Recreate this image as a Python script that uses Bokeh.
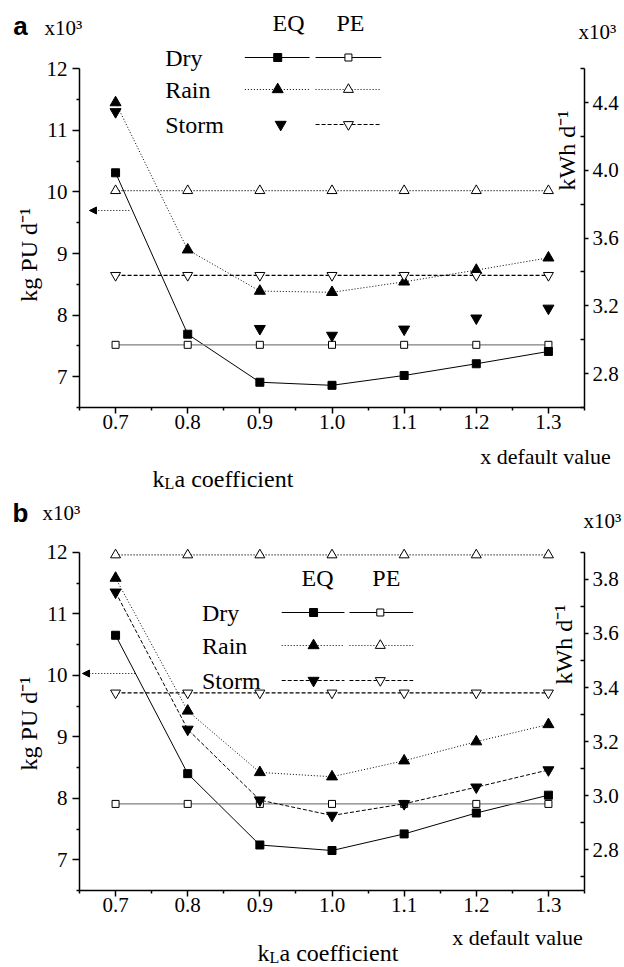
import math
from bokeh.plotting import figure
from bokeh.models import (Range1d, LinearAxis, FixedTicker, PrintfTickFormatter,
                          Label, Arrow, NormalHead)
from bokeh.layouts import column, row
from bokeh.embed import file_html
from bokeh.resources import INLINE

NAN = float("nan")

# ------------------------------------------------------------------ data
kla_factor = [0.7, 0.8, 0.9, 1.0, 1.1, 1.2, 1.3]
x_tick_values = [0.7, 0.8, 0.9, 1.0, 1.1, 1.2, 1.3]
x_minor_values = [0.65, 0.75, 0.85, 0.95, 1.05, 1.15, 1.25, 1.35]
eq_tick_values = [7, 8, 9, 10, 11, 12]
eq_minor_values = [6.5, 7.5, 8.5, 9.5, 10.5, 11.5]

# panel a  (EQ: kg PU/d x10^3 ; PE: kWh/d x10^3)
a_eq_dry = [10.31, 7.69, 6.91, 6.86, 7.02, 7.21, 7.41]
a_eq_rain = [11.45, 9.06, 8.39, 8.37, 8.54, 8.73, 8.93]
a_eq_storm = [11.30, NAN, 7.78, 7.67, 7.77, 7.95, 8.11]
a_pe_dry = [2.97, 2.97, 2.97, 2.97, 2.97, 2.97, 2.97]
a_pe_rain = [3.88, 3.88, 3.88, 3.88, 3.88, 3.88, 3.88]
a_pe_storm = [3.38, 3.38, 3.38, 3.38, 3.38, 3.38, 3.38]
a_pe_ticks = [2.8, 3.2, 3.6, 4.0, 4.4]
a_pe_minor = [2.6, 3.0, 3.4, 3.8, 4.2, 4.6]

# panel b
b_eq_dry = [10.65, 8.40, 7.24, 7.15, 7.42, 7.76, 8.05]
b_eq_rain = [11.58, 9.42, 8.42, 8.35, 8.61, 8.92, 9.20]
b_eq_storm = [11.35, 9.12, 7.97, 7.72, 7.91, 8.18, 8.46]
b_pe_dry = [2.97, 2.97, 2.97, 2.97, 2.97, 2.97, 2.97]
b_pe_rain = [3.89, 3.89, 3.89, 3.89, 3.89, 3.89, 3.89]
b_pe_storm = [3.38, 3.38, 3.38, 3.38, 3.38, 3.38, 3.38]
b_pe_ticks = [2.8, 3.0, 3.2, 3.4, 3.6, 3.8]
b_pe_minor = [2.7, 2.9, 3.1, 3.3, 3.5, 3.7, 3.9]

series_names = ["Dry", "Rain", "Storm"]

# ------------------------------------------------------------------ styles / layout
SERIF = "Liberation Serif"
SANS = "Liberation Sans"
STYLE = {
    "Dry": dict(dash="solid", eq_marker="square", pe_marker="square", eq_size=8, pe_size=7,
                pe_color="#808080"),
    "Rain": dict(dash="1 2", eq_marker="triangle", pe_marker="triangle", eq_size=11, pe_size=10,
                 pe_color="black"),
    "Storm": dict(dash="4 2", eq_marker="inverted_triangle", pe_marker="inverted_triangle",
                  eq_size=11, pe_size=10, pe_color="black"),
}
PAGE_W = 624
LEFT_STRIP_W = 43
MAIN_W = PAGE_W - LEFT_STRIP_W
FRAME_L_PAGE, FRAME_R_PAGE = 77, 584
X0, X1 = 0.65, 1.35
EQ0, EQ1 = 6.5, 12.0
HALF = math.pi / 2


def strip(width, height):
    """A text-only canvas whose data units are its own pixels (y downward)."""
    s = figure(width=width, height=height, x_range=Range1d(0, width),
               y_range=Range1d(height, 0), output_backend="svg", toolbar_location=None,
               x_axis_location=None, y_axis_location=None, min_border=0)
    s.outline_line_color = None
    s.grid.visible = False
    return s


def put(canvas, text, x, y, size="24px", font=SERIF, style="normal", align="center",
        baseline="middle", angle=0):
    canvas.add_layout(Label(x=x, y=y, text=text, text_font=font, text_font_size=size,
                            text_font_style=style, text_align=align, text_baseline=baseline,
                            angle=angle, text_color="black"))


def kla_title(canvas, x, y):
    put(canvas, "k", x, y, align="left", baseline="alphabetic")
    put(canvas, "L", x + 12, y + 5, size="16px", align="left", baseline="alphabetic")
    put(canvas, "a coefficient", x + 22, y, align="left", baseline="alphabetic")


def style_axis(ax, major, minor, fmt, bounds, maj_out, min_out, min_in, standoff):
    ax.ticker = FixedTicker(ticks=major, minor_ticks=minor)
    ax.formatter = PrintfTickFormatter(format=fmt)
    ax.bounds = bounds
    ax.axis_line_color = "black"
    ax.axis_line_width = 1.5
    ax.major_tick_line_color = "black"
    ax.minor_tick_line_color = "black"
    ax.major_tick_line_width = 1.5
    ax.minor_tick_line_width = 1.5
    ax.major_tick_out = maj_out
    ax.major_tick_in = 0
    ax.minor_tick_out = min_out
    ax.minor_tick_in = min_in
    ax.major_label_text_font = SERIF
    ax.major_label_text_font_size = "21px"
    ax.major_label_text_color = "black"
    ax.major_label_standoff = standoff


def make_main(cfg, data):
    top = cfg["top_page"]
    bottom = cfg["bottom_page"]
    fbot = cfg["frame_bottom_page"]
    scale = cfg["eq_px_per_unit"]
    y_top = EQ0 + (fbot - top) / scale
    r0, r1 = cfg["pe_bounds"]
    r_top = r0 + (y_top - EQ0) * (r1 - r0) / (EQ1 - EQ0)

    def X(px):
        return X0 + (px - FRAME_L_PAGE) * (X1 - X0) / (FRAME_R_PAGE - FRAME_L_PAGE)

    def Y(py):
        return EQ0 + (fbot - py) / scale

    p = figure(width=MAIN_W, height=bottom - top, x_range=Range1d(X0, X1),
               y_range=Range1d(EQ0, y_top), output_backend="svg", toolbar_location=None,
               min_border_left=FRAME_L_PAGE - LEFT_STRIP_W,
               min_border_right=PAGE_W - FRAME_R_PAGE,
               min_border_top=0, min_border_bottom=bottom - fbot)
    p.outline_line_color = None
    p.grid.visible = False
    p.extra_y_ranges = {"pe": Range1d(r0, r_top)}

    style_axis(p.xaxis[0], x_tick_values, x_minor_values, "%.1f", (X0, X1), 6, 3, 0, 1)
    style_axis(p.yaxis[0], eq_tick_values, eq_minor_values, "%d", (EQ0, EQ1), 7, 3, 0, 5)
    rax = LinearAxis(y_range_name="pe")
    style_axis(rax, cfg["pe_ticks"], cfg["pe_minor"], "%.1f", (r0, r1), 4, 0, 4, 4)
    p.add_layout(rax, "right")

    for name in series_names:
        st = STYLE[name]
        if not (name == "Storm" and not cfg["storm_eq_line"]):
            p.line(kla_factor, data["eq"][name], line_color="black", line_width=1,
                   line_dash=st["dash"])
        p.line(kla_factor, data["pe"][name], line_color=st["pe_color"], line_width=1.2,
               line_dash=st["dash"], y_range_name="pe")
    for name in series_names:
        st = STYLE[name]
        p.scatter(kla_factor, data["pe"][name], marker=st["pe_marker"], size=st["pe_size"],
                  fill_color="white", line_color="black", line_width=1, y_range_name="pe")
        p.scatter(kla_factor, data["eq"][name], marker=st["eq_marker"], size=st["eq_size"],
                  fill_color="black", line_color="black", line_width=1)

    # custom legend: label | EQ sample | PE sample
    lg = cfg["legend"]
    for name, ry in zip(series_names, lg["rows_y"]):
        st = STYLE[name]
        put(p, name, X(lg["label_x"]), Y(ry), align="left")
        if not (name == "Storm" and not cfg["storm_eq_line"]):
            p.line([X(lg["eq_line"][0]), X(lg["eq_line"][1])], [Y(ry), Y(ry)],
                   line_color="black", line_width=1, line_dash=st["dash"])
            ex = lg["eq_mark_x"]
        else:
            ex = lg["storm_eq_mark_x"]
        p.scatter([X(ex)], [Y(ry)], marker=st["eq_marker"], size=st["eq_size"],
                  fill_color="black", line_color="black")
        p.line([X(lg["pe_line"][0]), X(lg["pe_line"][1])], [Y(ry), Y(ry)],
               line_color="black", line_width=1, line_dash=st["dash"])
        p.scatter([X(lg["pe_mark_x"])], [Y(ry)], marker=st["pe_marker"], size=st["pe_size"],
                  fill_color="white", line_color="black", line_width=1)
    if "hdr_y" in lg:
        put(p, "EQ", X(lg["eq_hdr_x"]), Y(lg["hdr_y"]))
        put(p, "PE", X(lg["pe_hdr_x"]), Y(lg["hdr_y"]))

    ax0, ax1, ay = cfg["arrow"]
    p.add_layout(Arrow(x_start=X(ax0), y_start=Y(ay), x_end=X(ax1), y_end=Y(ay),
                       line_color="black", line_width=1, line_dash="1 2",
                       end=NormalHead(size=7, fill_color="black", line_color="black")))

    kx, ky = cfg["kwh_title"]
    put(p, "kWh d⁻¹", X(kx), Y(ky), angle=HALF)

    left = strip(LEFT_STRIP_W, bottom - top)
    lx, ly = cfg["kg_title"]
    put(left, "kg PU d⁻¹", lx, ly - top, angle=HALF)
    return row(left, p, spacing=0)


# ------------------------------------------------------------------ page bands
T1_TOP, T1_BOT = 0, 43
A_TOP, A_BOT = 43, 441
T2_TOP, T2_BOT = 441, 535
B_TOP, B_BOT = 535, 924
T3_TOP, T3_BOT = 924, 966

# anchors of the rotated titles (rendered text sits a little above its anchor)
cfg_a = dict(
    top_page=A_TOP, bottom_page=A_BOT, frame_bottom_page=407, eq_px_per_unit=61.6,
    pe_bounds=(2.6, 4.6), pe_ticks=a_pe_ticks, pe_minor=a_pe_minor, storm_eq_line=False,
    legend=dict(label_x=163, rows_y=[57, 89, 124], eq_line=(243, 308), eq_mark_x=276,
                storm_eq_mark_x=279, pe_line=(314, 380), pe_mark_x=347),
    arrow=(127, 87, 210), kwh_title=(566, 150), kg_title=(28.5, 274),
)
cfg_b = dict(
    top_page=B_TOP, bottom_page=B_BOT, frame_bottom_page=890, eq_px_per_unit=61.5,
    pe_bounds=(2.65, 3.9), pe_ticks=b_pe_ticks, pe_minor=b_pe_minor, storm_eq_line=True,
    legend=dict(hdr_y=577, eq_hdr_x=316, pe_hdr_x=385, label_x=200, rows_y=[612, 645, 680],
                eq_line=(280, 343), eq_mark_x=312, storm_eq_mark_x=312,
                pe_line=(348, 412), pe_mark_x=379),
    arrow=(133, 80, 673), kwh_title=(563, 644), kg_title=(28.5, 741),
)

data_a = dict(eq={"Dry": a_eq_dry, "Rain": a_eq_rain, "Storm": a_eq_storm},
              pe={"Dry": a_pe_dry, "Rain": a_pe_rain, "Storm": a_pe_storm})
data_b = dict(eq={"Dry": b_eq_dry, "Rain": b_eq_rain, "Storm": b_eq_storm},
              pe={"Dry": b_pe_dry, "Rain": b_pe_rain, "Storm": b_pe_storm})

# top band (panel a header)
t1 = strip(PAGE_W, T1_BOT - T1_TOP)
put(t1, "a", 20, 25 - T1_TOP, size="26px", font=SANS, style="bold")
put(t1, "x10³", 63, 27 - T1_TOP, size="21px")
put(t1, "EQ", 288, 22 - T1_TOP)
put(t1, "PE", 350, 22 - T1_TOP)
put(t1, "x10³", 597, 31 - T1_TOP, size="21px")

# middle band (panel a x titles, panel b header)
t2 = strip(PAGE_W, T2_BOT - T2_TOP)
put(t2, "x default value", 545, 456 - T2_TOP, size="22px")
kla_title(t2, 152, 478 - T2_TOP)
put(t2, "b", 20, 512 - T2_TOP, size="26px", font=SANS, style="bold")
put(t2, "x10³", 61, 512 - T2_TOP, size="21px")
put(t2, "x10³", 602, 520 - T2_TOP, size="21px")

# bottom band (panel b x titles)
t3 = strip(PAGE_W, T3_BOT - T3_TOP)
put(t3, "x default value", 517, 937 - T3_TOP, size="22px")
kla_title(t3, 257, 952 - T3_TOP)

panel_a = make_main(cfg_a, data_a)
panel_b = make_main(cfg_b, data_b)
layout = column(t1, panel_a, t2, panel_b, t3, spacing=0)

open("out.html", "w").write(file_html(layout, INLINE))
